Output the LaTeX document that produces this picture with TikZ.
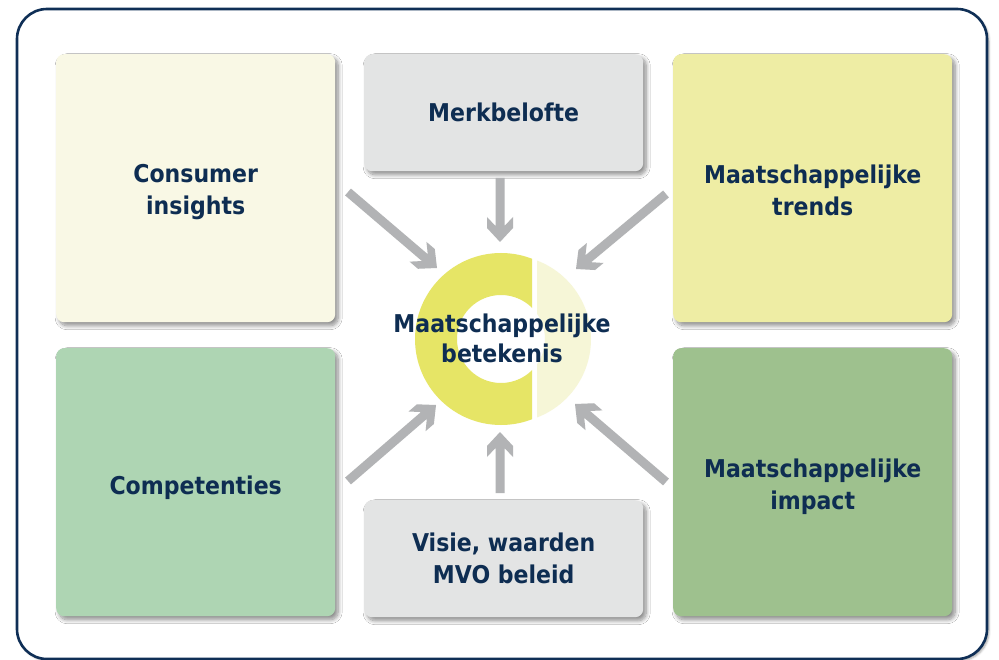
\documentclass[tikz,border=0pt]{standalone}
\usepackage{fontspec}
\setmainfont{DejaVu Sans Condensed}
\usetikzlibrary{calc,shadows.blur}

\definecolor{navy}{HTML}{0E2D52}
\definecolor{frame}{HTML}{0F2F56}
\definecolor{consfill}{HTML}{F9F8E5}
\definecolor{greyfill}{HTML}{E3E4E4}
\definecolor{trendfill}{HTML}{EEEDA4}
\definecolor{compfill}{HTML}{AED5B3}
\definecolor{impactfill}{HTML}{9EC18E}
\definecolor{ringdark}{HTML}{E6E566}
\definecolor{ringlight}{HTML}{F6F6D7}
\definecolor{arrowgrey}{HTML}{B2B3B5}

% thick grey arrow with a notched chevron head, from #1 (tail) to #2 (tip)
\newcommand\greyarrow[2]{%
  \fill[arrowgrey] let \p1=($(#2)-(#1)$), \n1={atan2(\y1,\x1)} in
    ([shift={(#2)},rotate=\n1]0,0)
    -- ([shift={(#2)},rotate=\n1]-14,13)
    -- ([shift={(#2)},rotate=\n1]-25,13)
    -- ([shift={(#2)},rotate=\n1]-16,4.5)
    -- ([shift={(#1)},rotate=\n1]0,4.5)
    -- ([shift={(#1)},rotate=\n1]0,-4.5)
    -- ([shift={(#2)},rotate=\n1]-16,-4.5)
    -- ([shift={(#2)},rotate=\n1]-25,-13)
    -- ([shift={(#2)},rotate=\n1]-14,-13)
    -- cycle;}

\begin{document}
\begin{tikzpicture}[x=1pt,y=1pt,
  tile/.style={rounded corners=8pt, anchor=north west, inner sep=0pt,
    fill=none, draw=none,
    blur shadow={shadow xshift=3pt, shadow yshift=-3.5pt, shadow blur steps=10,
      shadow blur radius=4pt, shadow opacity=45}},
  label/.style={text=navy, align=center, font=\bfseries\fontsize{24.5}{32}\selectfont},
  bigtile/.style={tile, minimum width=279pt, minimum height=268pt},
  smalltile/.style={tile, minimum width=279pt, minimum height=117pt},
  centrelabel/.style={label, font=\bfseries\fontsize{24.5}{30}\selectfont}]

\useasboundingbox (0,0) rectangle (999,-660);

% outer frame
\draw[frame, line width=2.6pt, fill=white, rounded corners=30pt,
  blur shadow={shadow xshift=2pt, shadow yshift=-2pt, shadow blur radius=2pt, shadow opacity=35}]
  (17,-9) rectangle (987,-659);

% tiles
\node[bigtile, fill=consfill]   (cons)   at (56,-54)  {};
\node[smalltile, fill=greyfill] (merk)   at (364,-54) {};
\node[bigtile, fill=trendfill]  (trend)  at (673,-54) {};
\node[bigtile, fill=compfill]   (comp)   at (56,-348) {};
\node[smalltile, fill=greyfill] (visie)  at (364,-500) {};
\node[bigtile, fill=impactfill] (impact) at (673,-348) {};

% tile captions
\node[label] (consT)   at ([yshift=-4pt]cons.center)   {Consumer\\insights};
\node[label] (merkT)   at (merk.center)                {Merkbelofte};
\node[label] (trendT)  at ([yshift=-2pt]trend.center)  {Maatschappelijke\\trends};
\node[label] (compT)   at ([yshift=-6pt]comp.center)   {Competenties};
\node[label] (visieT)  at (visie.center)               {Visie, waarden\\MVO beleid};
\node[label] (impactT) at ([yshift=-5pt]impact.center) {Maatschappelijke\\impact};

% ring in the middle, split by a vertical cut
\begin{scope}
  \clip (400,-240) rectangle (532,-440);
  \fill[ringdark, even odd rule] (501,-339) circle (86) (501,-339) circle (44);
\end{scope}
\begin{scope}
  \clip (537,-240) rectangle (600,-440);
  \fill[ringlight, even odd rule] (507,-339) circle (84) (501,-339) circle (44);
\end{scope}

\node[centrelabel] (core) at (502,-338) {Maatschappelijke\\betekenis};

% arrow ends
\coordinate (t1) at (348,-192); \coordinate (h1) at (437,-268);
\coordinate (t2) at (500,-178); \coordinate (h2) at (500,-242);
\coordinate (t3) at (666,-194); \coordinate (h3) at (576,-269);
\coordinate (t4) at (348,-481); \coordinate (h4) at (436,-405);
\coordinate (t5) at (500,-493); \coordinate (h5) at (500,-432);
\coordinate (t6) at (666,-482); \coordinate (h6) at (575,-404);

\greyarrow{t1}{h1}
\greyarrow{t2}{h2}
\greyarrow{t3}{h3}
\greyarrow{t4}{h4}
\greyarrow{t5}{h5}
\greyarrow{t6}{h6}

\end{tikzpicture}
\end{document}
